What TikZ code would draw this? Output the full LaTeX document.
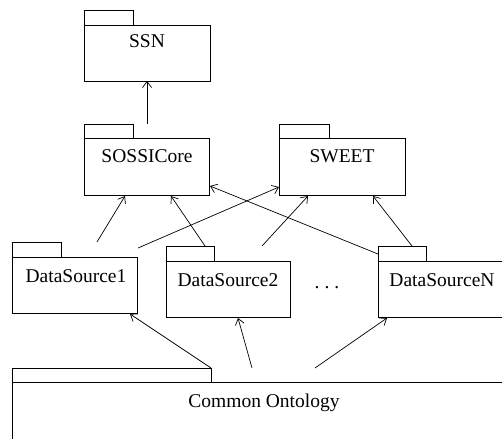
\documentclass[tikz,border=0pt]{standalone}
\usepackage{fontspec}
\setmainfont{Liberation Serif}
\usetikzlibrary{arrows.meta}
\tikzset{
  pkg/.style={draw, line width=0.8pt, anchor=north west, inner sep=0pt},
  lbl/.style={anchor=base, inner sep=0pt, font=\fontsize{19.5}{22}\selectfont},
  dep/.style={line width=0.7pt, -{Straight Barb[length=6pt,width=9pt,line width=0.7pt]}},
}
\begin{document}
\begin{tikzpicture}[x=1pt,y=-1pt]
\useasboundingbox (0,0) rectangle (502,438);
\clip (0,0) rectangle (502,438);
% SSN
\node[pkg, minimum width=126pt, minimum height=56pt] (ssn) at (84,25) {};
\node[pkg, minimum width=49pt, minimum height=15pt] (ssnt) at (84,10) {};
\node[lbl] (ssnl) at (147,48) {SSN};
% SOSSICore
\node[pkg, minimum width=125pt, minimum height=57pt] (sos) at (84,138) {};
\node[pkg, minimum width=49pt, minimum height=14pt] (sost) at (84,124) {};
\node[lbl] (sosl) at (147,163) {SOSSICore};
% SWEET
\node[pkg, minimum width=126pt, minimum height=57pt] (sw) at (279,138) {};
\node[pkg, minimum width=50pt, minimum height=14pt] (swt) at (279,124) {};
\node[lbl] (swl) at (342,163) {SWEET};
% DataSource1
\node[pkg, minimum width=125pt, minimum height=56pt] (d1) at (12,257) {};
\node[pkg, minimum width=49pt, minimum height=15pt] (d1t) at (12,242) {};
\node[lbl] (d1l) at (76,282) {DataSource1};
% DataSource2
\node[pkg, minimum width=124pt, minimum height=56pt] (d2) at (166,261) {};
\node[pkg, minimum width=48pt, minimum height=15pt] (d2t) at (166,246) {};
\node[lbl] (d2l) at (228,286) {DataSource2};
% DataSourceN
\node[pkg, minimum width=123.5pt, minimum height=56pt] (dn) at (378,261) {};
\node[pkg, minimum width=48pt, minimum height=15pt] (dnt) at (378,246) {};
\node[lbl] (dnl) at (442,286) {DataSourceN};
% dots
\node[lbl] (dots) at (327,288) {.\hspace{5pt}.\hspace{5pt}.};
% Common Ontology
\node[pkg, minimum width=520pt, minimum height=80pt] (co) at (12,382) {};
\node[pkg, minimum width=199pt, minimum height=14pt] (cot) at (12,368) {};
\node[lbl] (col) at (264,407) {Common Ontology};
% connector end points
\coordinate (s1) at (147,124);
\coordinate (e1) at (147,81);
\coordinate (s2) at (97,242);
\coordinate (e2) at (125,196);
\coordinate (s3) at (138,248);
\coordinate (e3) at (279,187);
\coordinate (s4) at (205,246);
\coordinate (e4) at (171,196);
\coordinate (s5) at (262,246);
\coordinate (e5) at (308,196);
\coordinate (s6) at (378,254);
\coordinate (e6) at (210,186);
\coordinate (s7) at (412,246);
\coordinate (e7) at (373,196);
\coordinate (s8) at (211,368);
\coordinate (e8) at (130,314);
\coordinate (s9) at (252,368);
\coordinate (e9) at (238,318);
\coordinate (s10) at (315,368);
\coordinate (e10) at (387,318);
\foreach \i in {1,...,10} {\draw[dep] (s\i) -- (e\i);}
\end{tikzpicture}
\end{document}
